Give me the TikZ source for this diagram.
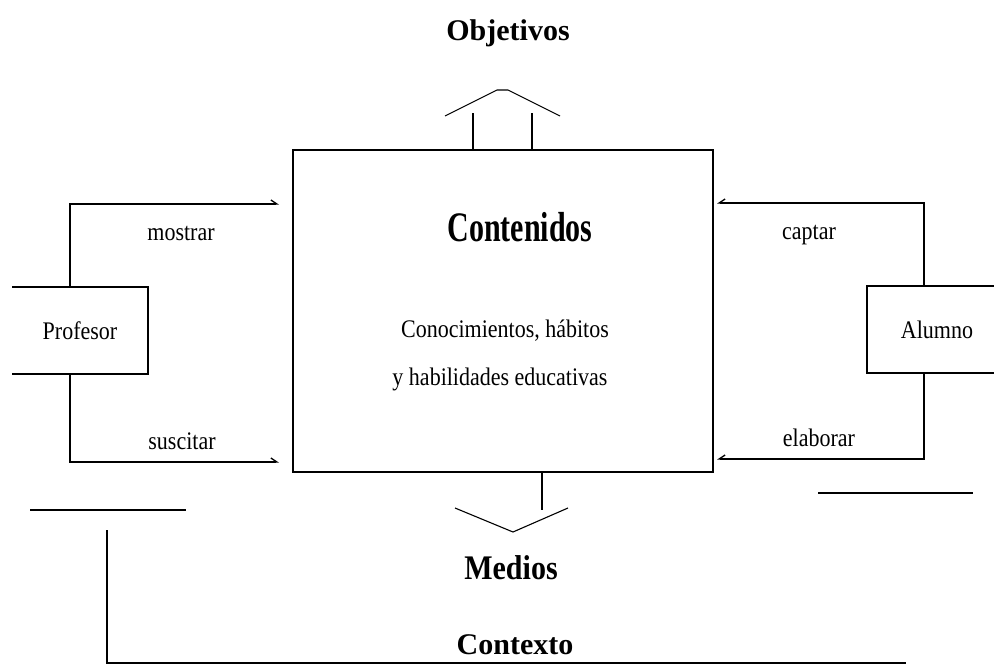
\documentclass[tikz,border=0pt]{standalone}
\usepackage{fontspec}
\setmainfont{Liberation Serif}
\usetikzlibrary{arrows.meta}
\newcommand{\tallr}[2]{\scalebox{1}[#1]{#2}}
\begin{document}
\begin{tikzpicture}[x=1pt,y=-1pt,
  ln/.style={line width=1.3pt,black},
  big/.style={font=\fontsize{30}{34}\selectfont\bfseries,inner sep=0pt},
  small/.style={font=\fontsize{22}{26}\selectfont,inner sep=0pt},
  tipR/.style={-{Straight Barb[length=6pt,width=8pt,left]}},
  tipL/.style={-{Straight Barb[length=6pt,width=8pt,right]}}]
\useasboundingbox[fill=white] (0,0) rectangle (994,666);
% main box
\node[ln,draw,minimum width=420pt,minimum height=322pt,inner sep=0pt] (main) at (503,311) {};
\node[big] (cont) at (520,227) {\tallr{1.4}{Contenidos}};
\node[small] (l1) at (505,331) {\tallr{1.15}{Conocimientos, hábitos}};
\node[small] (l2) at (500,379) {\tallr{1.15}{y habilidades educativas}};
% objetivos
\node[big] (obj) at (508,33) {Objetivos};
\coordinate (ua) at (473,150);
\coordinate (ub) at (532,150);
\coordinate (uc) at (473,113);
\coordinate (ud) at (532,113);
\draw[ln] (ua) -- (uc);
\draw[ln] (ub) -- (ud);
\coordinate (chl) at (445,116);
\coordinate (chp1) at (497,90);
\coordinate (chp2) at (508,90);
\coordinate (chr) at (560,116);
\draw[ln,line width=1.1pt] (chl) -- (chp1) -- (chp2) -- (chr);
% medios
\coordinate (da) at (542,311+161);
\coordinate (db) at (542,510);
\draw[ln] (da) -- (db);
\coordinate (dl) at (455,508);
\coordinate (dm) at (513,532);
\coordinate (dr) at (568,508);
\draw[ln,line width=1.1pt] (dl) -- (dm) -- (dr);
\node[big] (med) at (511,568) {\tallr{1.15}{Medios}};
\node[big] (ctx) at (515,645) {Contexto};
% profesor
\draw[ln] (12,287) -- (148,287) -- (148,374) -- (12,374);
\node[small] (prof) at (80,331) {\tallr{1.15}{Profesor}};
\coordinate (pt) at (70,287);
\coordinate (pb) at (70,374);
\coordinate (pti) at (70,204);
\coordinate (pbi) at (70,462);
\coordinate (pte) at (279,204);
\coordinate (pbe) at (279,462);
\draw[ln,tipR] (pt) -- (pti) -- (pte);
\draw[ln,tipR] (pb) -- (pbi) -- (pbe);
\node[small] (mos) at (181,234) {\tallr{1.15}{mostrar}};
\node[small] (sus) at (182,441) {\tallr{1.15}{suscitar}};
\draw[ln] (30,510) -- (186,510);
% alumno
\draw[ln] (994,286) -- (867,286) -- (867,373) -- (994,373);
\node[small] (alu) at (937,330) {\tallr{1.15}{Alumno}};
\coordinate (at) at (924,286);
\coordinate (ab) at (924,373);
\coordinate (ati) at (924,203);
\coordinate (abi) at (924,459);
\coordinate (ate) at (717,203);
\coordinate (abe) at (717,459);
\draw[ln,tipL] (at) -- (ati) -- (ate);
\draw[ln,tipL] (ab) -- (abi) -- (abe);
\node[small] (cap) at (809,235) {\tallr{1.15}{captar}};
\node[small] (ela) at (819,438) {\tallr{1.15}{elaborar}};
\draw[ln] (818,493) -- (973,493);
% contexto bracket
\coordinate (ka) at (107,530);
\coordinate (kb) at (107,663);
\coordinate (kc) at (906,663);
\draw[ln] (ka) -- (kb) -- (kc);
\end{tikzpicture}
\end{document}
